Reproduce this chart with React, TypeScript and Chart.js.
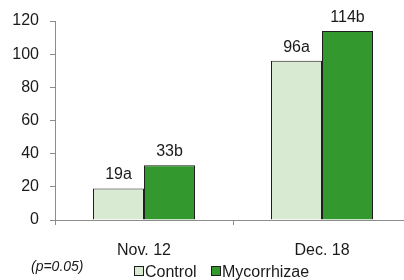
import React, { useEffect, useRef } from "react";
import { Chart, registerables } from "chart.js";

Chart.register(...registerables);

const categories = ["Nov. 12", "Dec. 18"];
const controlData = [19, 96];
const mycorrhizaeData = [33, 114];
const controlLetters = ["a", "a"];
const mycorrhizaeLetters = ["b", "b"];
const seriesNames = ["Control", "Mycorrhizae"];
const yTickMin = 0;
const yTickMax = 120;
const yTickStep = 20;
const noteText = "(p=0.05)";

const FONT = "'Liberation Sans', Arial, Helvetica, sans-serif";
const CONTROL_FILL = "#d9ead3";
const MYC_FILL = "#33992f";
const BORDER = "#1e1e1e";
const AXIS = "#8c8c8c";

export default function App() {
  const ref = useRef<HTMLCanvasElement | null>(null);

  useEffect(() => {
    const canvas = ref.current;
    if (!canvas) return;
    const letters = [controlLetters, mycorrhizaeLetters];

    const labelPlugin = {
      id: "barLabels",
      afterDatasetsDraw(chart: any) {
        const ctx = chart.ctx;
        ctx.save();
        ctx.font = `16px ${FONT}`;
        ctx.fillStyle = "#1a1a1a";
        ctx.textAlign = "center";
        ctx.textBaseline = "alphabetic";
        chart.data.datasets.forEach((ds: any, di: number) => {
          const meta = chart.getDatasetMeta(di);
          meta.data.forEach((el: any, i: number) => {
            ctx.fillText(`${ds.data[i]}${letters[di][i]}`, el.x, el.y - 9);
          });
        });
        ctx.restore();
      },
    };

    const legendPlugin = {
      id: "customLegend",
      afterDraw(chart: any) {
        const ctx = chart.ctx;
        ctx.save();
        ctx.font = `italic 14px ${FONT}`;
        ctx.fillStyle = "#1a1a1a";
        ctx.textAlign = "left";
        ctx.textBaseline = "middle";
        ctx.fillText(noteText, 31, 267);
        const fills = [CONTROL_FILL, MYC_FILL];
        const xs = [134, 211];
        ctx.font = `16px ${FONT}`;
        seriesNames.forEach((name, i) => {
          ctx.fillStyle = fills[i];
          ctx.fillRect(xs[i] + 0.5, 266 + 0.5, 9, 9);
          ctx.strokeStyle = BORDER;
          ctx.lineWidth = 1;
          ctx.strokeRect(xs[i] + 0.5, 266 + 0.5, 9, 9);
          ctx.fillStyle = "#1a1a1a";
          ctx.fillText(name, xs[i] + 11, 273);
        });
        ctx.restore();
      },
    };

    const chart = new Chart(canvas, {
      type: "bar",
      data: {
        labels: categories,
        datasets: [
          {
            label: seriesNames[0],
            data: controlData,
            backgroundColor: CONTROL_FILL,
            borderColor: BORDER,
            borderWidth: 1,
            categoryPercentage: 0.573,
            barPercentage: 1,
          },
          {
            label: seriesNames[1],
            data: mycorrhizaeData,
            backgroundColor: MYC_FILL,
            borderColor: BORDER,
            borderWidth: 1,
            categoryPercentage: 0.573,
            barPercentage: 1,
          },
        ],
      },
      options: {
        responsive: false,
        animation: false,
        devicePixelRatio: 1,
        layout: { padding: { top: 21, right: 9, bottom: 0, left: 0 } },
        plugins: {
          legend: { display: false },
          tooltip: { enabled: false },
        },
        scales: {
          x: {
            offset: true,
            grid: {
              display: true,
              drawOnChartArea: false,
              drawTicks: true,
              tickLength: 5,
              color: AXIS,
              offset: true,
            },
            border: { display: true, color: AXIS, width: 1 },
            ticks: {
              color: "#1a1a1a",
              font: { family: FONT, size: 16 },
              padding: 16,
              maxRotation: 0,
            },
            afterFit(scale: any) {
              scale.height = 60;
            },
          },
          y: {
            min: yTickMin,
            max: yTickMax,
            grid: {
              display: true,
              drawOnChartArea: false,
              drawTicks: true,
              tickLength: 5,
              color: AXIS,
            },
            border: { display: true, color: AXIS, width: 1 },
            ticks: {
              stepSize: yTickStep,
              color: "#1a1a1a",
              font: { family: FONT, size: 16 },
              padding: 11,
            },
            afterFit(scale: any) {
              scale.width = 55;
            },
          },
        },
      },
      plugins: [labelPlugin, legendPlugin],
    } as any);

    return () => chart.destroy();
  }, []);

  return (
    <div
      style={{
        position: "fixed",
        left: 0,
        top: 0,
        width: 404,
        height: 280,
        overflow: "hidden",
        background: "#fff",
      }}
    >
      <canvas ref={ref} width={420} height={280} style={{ display: "block" }} />
    </div>
  );
}
